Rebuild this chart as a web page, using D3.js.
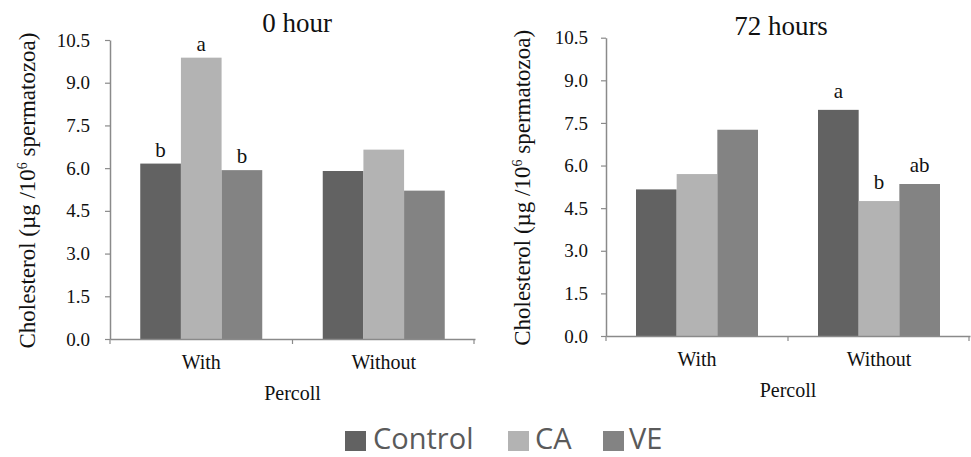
<!DOCTYPE html>
<html><head><meta charset="utf-8">
<script src="https://cdn.jsdelivr.net/npm/d3@7"></script>
<style>body{margin:0;background:#fff}svg{display:block}</style>
</head><body>
<svg id="c" width="971" height="457"></svg>
<script>
const categories = ["With", "Without"];
const seriesNames = ["Control", "CA", "VE"];
const colors = ["#626262", "#b3b3b3", "#838383"];
const yTicks = [0, 1.5, 3.0, 4.5, 6.0, 7.5, 9.0, 10.5];
const titles = ["0 hour", "72 hours"];
// values[category][series]
const hour0 = [[6.16, 9.88, 5.93], [5.90, 6.65, 5.21]];
const hour72 = [[5.16, 5.70, 7.26], [7.96, 4.75, 5.35]];
const letters0 = [["b", "a", "b"], ["", "", ""]];
const letters72 = [["", "", ""], ["a", "b", "ab"]];

const svg = d3.select("#c");
const serif = "'Liberation Serif', 'Times New Roman', serif";
const axisColor = "#8a8a8a";
const textColor = "#111";

const panels = [
  {title: titles[0], values: hour0, letters: letters0, x0: 110, x1: 475, yTop: 40, yBot: 339, titleX: 297, titleY: 32, labelX: 35, letterOff: 7, tickGap: 20},
  {title: titles[1], values: hour72, letters: letters72, x0: 606, x1: 970, yTop: 37.7, yBot: 336, titleX: 781, titleY: 35, labelX: 530, letterOff: 12, tickGap: 18}
];

panels.forEach(p => {
  const g = svg.append("g");
  const x = d3.scaleBand().domain(categories).range([p.x0, p.x1]).paddingInner(0).paddingOuter(0);
  const innerPad = (x.bandwidth() - 122) / 2;
  const inner = d3.scaleBand().domain(seriesNames).range([innerPad, x.bandwidth() - innerPad]);
  const y = d3.scaleLinear().domain([0, 10.5]).range([p.yBot, p.yTop]);

  categories.forEach((c, ci) => {
    seriesNames.forEach((s, si) => {
      const v = p.values[ci][si];
      g.append("rect")
        .attr("x", x(c) + inner(s))
        .attr("y", y(v))
        .attr("width", inner.bandwidth())
        .attr("height", y(0) - y(v))
        .attr("fill", colors[si]);
      const L = p.letters[ci][si];
      if (L) {
        g.append("text")
          .attr("x", x(c) + inner(s) + inner.bandwidth() / 2)
          .attr("y", y(v) - p.letterOff)
          .attr("text-anchor", "middle")
          .attr("font-family", serif)
          .attr("font-size", 21)
          .attr("fill", textColor)
          .text(L);
      }
    });
  });

  // y axis
  const ya = g.append("g").attr("transform", `translate(${p.x0},0)`)
    .call(d3.axisLeft(y).tickValues(yTicks).tickFormat(d3.format(".1f")).tickSize(5).tickSizeOuter(0));
  ya.select(".domain").attr("stroke", axisColor).attr("stroke-width", 1.5);
  ya.selectAll(".tick line").attr("stroke", axisColor).attr("stroke-width", 1.2);
  ya.selectAll(".tick text").attr("font-family", serif).attr("font-size", 19).attr("fill", textColor).attr("x", -p.tickGap);

  // x axis
  const xa = g.append("g").attr("transform", `translate(0,${p.yBot})`)
    .call(d3.axisBottom(x).tickSize(0));
  xa.select(".domain").attr("stroke", axisColor).attr("stroke-width", 1.5);
  xa.selectAll(".tick text").attr("font-family", serif).attr("font-size", 20).attr("fill", textColor)
    .attr("y", 30).attr("dy", 0);
  const bounds = [p.x0, x(categories[1]), p.x1 - 1];
  bounds.forEach(b => {
    g.append("line").attr("x1", b).attr("x2", b).attr("y1", p.yBot).attr("y2", p.yBot + 5)
      .attr("stroke", axisColor).attr("stroke-width", 1.2);
  });

  g.append("text").attr("x", (p.x0 + p.x1) / 2).attr("y", p.yBot + 61)
    .attr("text-anchor", "middle").attr("font-family", serif).attr("font-size", 20).attr("fill", textColor)
    .text("Percoll");

  g.append("text").attr("x", p.titleX).attr("y", p.titleY)
    .attr("text-anchor", "middle").attr("font-family", serif).attr("font-size", 27).attr("fill", textColor)
    .text(p.title);

  const yl = g.append("text")
    .attr("transform", `translate(${p.labelX},${(p.yTop + p.yBot) / 2 + 1}) rotate(-90)`)
    .attr("text-anchor", "middle").attr("font-family", serif).attr("font-size", 23).attr("fill", textColor);
  yl.append("tspan").text("Cholesterol (µg /10");
  yl.append("tspan").attr("dy", -8).attr("font-size", 14).text("6");
  yl.append("tspan").attr("dy", 8).text(" spermatozoa)");
});

// legend
const legendItems = [
  {name: seriesNames[0], sx: 345, tx: 373},
  {name: seriesNames[1], sx: 508, tx: 535},
  {name: seriesNames[2], sx: 603, tx: 629}
];
legendItems.forEach((li, i) => {
  svg.append("rect").attr("x", li.sx).attr("y", 431).attr("width", 21).attr("height", 20).attr("fill", colors[i]);
  svg.append("text").attr("x", li.tx).attr("y", 449)
    .attr("font-family", "'Open Sans', 'Noto Sans', sans-serif").attr("font-size", 29).attr("fill", "#5a5a5a")
    .text(li.name);
});
</script>
</body></html>
